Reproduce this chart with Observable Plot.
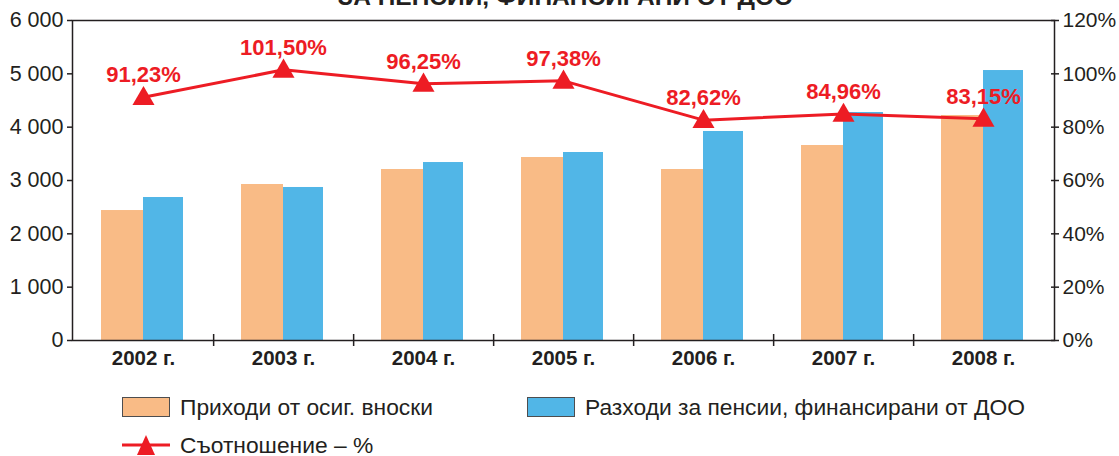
<!DOCTYPE html>
<html><head><meta charset="utf-8">
<script src="https://cdn.jsdelivr.net/npm/d3@7"></script>
<script src="https://cdn.jsdelivr.net/npm/@observablehq/plot@0.6"></script>
<style>
body{margin:0;background:#fff;font-family:"Liberation Sans",Arial,Helvetica,sans-serif;color:#231f20;}
#wrap{position:relative;width:1119px;height:456px;overflow:hidden;}
#title{position:absolute;left:6px;width:1119px;text-align:center;top:-15px;font-weight:bold;font-size:24.5px;line-height:24px;color:#231f20;}
#chart{position:absolute;left:0;top:0;}
.leg{position:absolute;font-size:22.8px;display:flex;align-items:center;height:20px;white-space:nowrap;}
.sw{width:48px;height:20px;border:1.5px solid #4d4d4f;box-sizing:border-box;margin-right:10px;}
</style></head>
<body><div id="wrap">
<div id="title">ЗА ПЕНСИИ, ФИНАНСИРАНИ ОТ ДОО</div>
<div id="chart"></div>
<div id="legend"></div>
</div>
<script>
const years = ["2002 г.", "2003 г.", "2004 г.", "2005 г.", "2006 г.", "2007 г.", "2008 г."];
const income = [2437, 2925, 3206, 3431, 3206, 3656, 4219];
const expense = [2681, 2869, 3337, 3525, 3919, 4275, 5062];
const ratio = [91.23, 101.50, 96.25, 97.38, 82.62, 84.96, 83.15];
const leftTicks = [0, 1000, 2000, 3000, 4000, 5000, 6000];
const rightTicks = [0, 20, 40, 60, 80, 100, 120];
const seriesNames = ["Приходи от осиг. вноски", "Разходи за пенсии, финансирани от ДОО", "Съотношение – %"];
const colors = ["#f9bb86", "#51b6e7", "#ed1c24"];

const k = 6000 / 120; // right axis (%) mapped onto left axis
const incData = years.map((y, i) => ({year: y, v: income[i]}));
const expData = years.map((y, i) => ({year: y, v: expense[i]}));
const ratioData = years.map((y, i) => ({year: y, r: ratio[i]}));
const fmtN = d3.formatLocale({thousands: "\u00a0", grouping: [3], decimal: ","}).format(",d");

const chart = Plot.plot({
  width: 1119, height: 380,
  marginTop: 20, marginBottom: 40, marginLeft: 72, marginRight: 65,
  style: {fontFamily: "'Liberation Sans', Arial, sans-serif", color: "#231f20", background: "transparent", overflow: "visible"},
  x: {domain: years, padding: 0, axis: null},
  y: {domain: [0, 6000], axis: null},
  marks: [
    Plot.barY(incData, {x: "year", y: "v", fill: colors[0], insetLeft: 28, insetRight: 70}),
    Plot.barY(expData, {x: "year", y: "v", fill: colors[1], insetLeft: 70, insetRight: 30}),
    Plot.frame({stroke: "#231f20", strokeWidth: 1.5}),
    Plot.axisY(leftTicks, {anchor: "left", tickSize: 5, tickPadding: 4, tickFormat: fmtN, fontSize: 21.5, label: null, strokeWidth: 1.5}),
    Plot.axisY(rightTicks.map(d => d * k), {anchor: "right", tickSize: 8, dx: -4, tickPadding: 4, tickFormat: d => Math.round(d / k) + "%", fontSize: 21, label: null, strokeWidth: 1.5}),
    Plot.axisX(years, {anchor: "bottom", tickSize: 0, tickPadding: 10, fontSize: 20.5, fontWeight: "bold", label: null}),
    Plot.ruleX(years.slice(0, -1), {x: d => d, dx: 70.14, y1: 0, y2: 0, insetTop: -6, insetBottom: -6, stroke: "#231f20", strokeWidth: 1.5}),
    Plot.line(ratioData, {x: "year", y: d => d.r * k, stroke: colors[2], strokeWidth: 3}),
    Plot.dot(ratioData, {x: "year", y: d => d.r * k, symbol: "triangle", r: 8.2, fill: colors[2], stroke: "none", dy: 1.5}),
    Plot.text(ratioData, {x: "year", y: d => d.r * k, text: d => d.r.toFixed(2).replace(".", ",") + "%", dy: -22, fill: colors[2], fontWeight: "bold", fontSize: 22})
  ]
});
document.getElementById("chart").appendChild(chart);

const leg = document.getElementById("legend");
function addSwatch(left, top, color, label) {
  const d = document.createElement("div");
  d.className = "leg";
  d.style.left = left + "px"; d.style.top = top + "px";
  d.innerHTML = `<div class="sw" style="background:${color}"></div><span>${label}</span>`;
  leg.appendChild(d);
}
addSwatch(122, 397, colors[0], seriesNames[0]);
addSwatch(527, 397, colors[1], seriesNames[1]);
const d3leg = document.createElement("div");
d3leg.className = "leg";
d3leg.style.left = "122px"; d3leg.style.top = "435px";
d3leg.innerHTML = `<svg width="48" height="20" style="margin-right:10px;overflow:visible"><line x1="0" x2="48" y1="10" y2="10" stroke="${colors[2]}" stroke-width="3"/><path d="M24,0 L33,20 L15,20 Z" fill="${colors[2]}"/></svg><span>${seriesNames[2]}</span>`;
leg.appendChild(d3leg);
</script>
</body></html>
